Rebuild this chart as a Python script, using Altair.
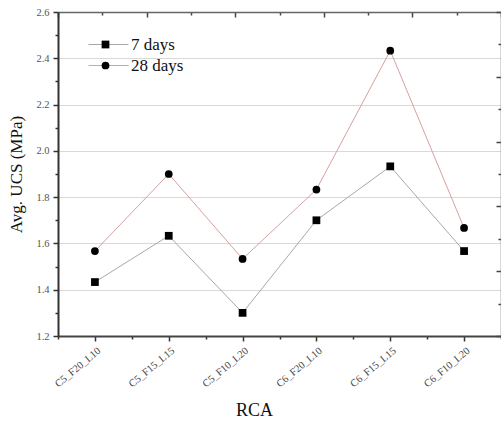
import json
import altair as alt
import pandas as pd

categories = ["C5_F20_L10", "C5_F15_L15", "C5_F10_L20", "C6_F20_L10", "C6_F15_L15", "C6_F10_L20"]
ucs_7 = [1.433, 1.633, 1.300, 1.700, 1.933, 1.567]
ucs_28 = [1.567, 1.900, 1.533, 1.833, 2.433, 1.667]
series_names = ["7 days", "28 days"]
marker_keys = ["m7", "m28"]
y_ticks = [1.2, 1.3, 1.4, 1.5, 1.6, 1.7, 1.8, 1.9, 2.0, 2.1, 2.2, 2.3, 2.4, 2.5, 2.6]
x_ticks = [-0.5, 0, 0.5, 1, 1.5, 2, 2.5, 3, 3.5, 4, 4.5, 5, 5.5]
frame_ticks = [0, 1, 2, 3, 4, 5, 6, 7, 8, 9, 10]

rows = []
for i, c in enumerate(categories):
    rows.append({"idx": i, "cat": c, "series": series_names[0], "marker": marker_keys[0], "value": ucs_7[i]})
    rows.append({"idx": i, "cat": c, "series": series_names[1], "marker": marker_keys[1], "value": ucs_28[i]})
df = pd.DataFrame(rows)

W, H = 443, 324
FONT = "Liberation Serif"

cats_js = json.dumps(categories)

x_axis = alt.Axis(
    values=x_ticks,
    labelExpr=f"datum.value % 1 == 0 ? {cats_js}[datum.value] : ''",
    labelAngle=-40, labelAlign="right", labelBaseline="middle",
    labelFont=FONT, labelFontSize=10.5, labelColor="#444", labelPadding=8, labelOffset=4,
    tickSize={"condition": {"test": "datum.value % 1 == 0", "value": 5}, "value": 3},
    tickColor="#333", tickWidth=1.5,
    domainColor="#444", domainWidth=2,
    grid=False, title="RCA", titleFont=FONT, titleFontSize=18,
    titleFontWeight="normal", titleColor="#111", titlePadding=12,
    titleX=196, labelOverlap=False,
)
y_axis = alt.Axis(
    values=y_ticks,
    labelExpr="round(datum.value*10) % 2 == 0 ? format(datum.value, '.1f') : ''",
    labelFont=FONT, labelFontSize=10.5, labelColor="#555", labelPadding=4,
    tickSize={"condition": {"test": "round(datum.value*10) % 2 == 0", "value": 5}, "value": 3},
    tickColor="#333", tickWidth=1.5,
    domainColor="#333", domainWidth=2,
    grid=True, gridColor="#d9d9d9", gridWidth=1,
    gridOpacity={"condition": {"test": "round(datum.value*10) % 2 == 0", "value": 1}, "value": 0},
    title="Avg. UCS (MPa)", titleFont=FONT, titleFontSize=17,
    titleFontWeight="normal", titleColor="#111", titlePadding=10,
    labelOverlap=False,
)

x_enc = alt.X("idx:Q", scale=alt.Scale(domain=[-0.5, 5.5], nice=False, zero=False), axis=x_axis)
y_enc = alt.Y("value:Q", scale=alt.Scale(domain=[1.2, 2.6], nice=False, zero=False), axis=y_axis)

lines = alt.Chart(df).mark_line(strokeWidth=1).encode(
    x=x_enc, y=y_enc,
    color=alt.Color("series:N", scale=alt.Scale(domain=series_names, range=["#a8a8a8", "#d9a0a0"]),
                    legend=alt.Legend(title=None, orient="none", legendX=42, legendY=24,
                                      symbolType="M-4,0H4", symbolSize=100, symbolStrokeWidth=1,
                                      labelFont=FONT, labelFontSize=17, labelColor="#111",
                                      labelOffset=14, rowPadding=3, padding=0)),
    detail="series:N",
)
points = alt.Chart(df).mark_point(filled=True, size=60, opacity=1).encode(
    x=x_enc, y=y_enc,
    shape=alt.Shape("marker:N", scale=alt.Scale(domain=marker_keys, range=["square", "circle"]),
                    legend=alt.Legend(title=None, orient="none", legendX=39, legendY=24,
                                      symbolSize=60, symbolFillColor="black", symbolStrokeColor="black",
                                      labelFont=FONT, labelFontSize=17, labelOpacity=0,
                                      labelExpr="''",
                                      labelOffset=14, rowPadding=3, padding=0)),
    color=alt.value("black"),
)

main = alt.layer(lines, points)

frame_df = pd.DataFrame({"fx": [0, 10], "fy": [0, 10]})
frame = alt.Chart(frame_df).mark_point(opacity=0).encode(
    x=alt.X("fx:Q", scale=alt.Scale(domain=[0, 10], nice=False, zero=False),
            axis=alt.Axis(orient="bottom", offset=-H, values=frame_ticks, labels=False, title=None,
                          grid=False, domainColor="#666", domainWidth=1.5, tickColor="#444",
                          tickWidth=1.5,
                          tickSize={"condition": {"test": "datum.value % 2 == 0", "value": 5}, "value": 3})),
    y=alt.Y("fy:Q", scale=alt.Scale(domain=[0, 10], nice=False, zero=False),
            axis=alt.Axis(orient="left", offset=-W, values=frame_ticks, labels=False, title=None,
                          grid=False, domainColor="#666", domainWidth=1.5, tickColor="#444",
                          tickWidth=1.5,
                          tickSize={"condition": {"test": "datum.value % 2 == 0", "value": 5}, "value": 3})),
)

chart = alt.layer(main, frame).resolve_scale(
    x="independent", y="independent"
).properties(
    width=W, height=H,
    autosize=alt.AutoSizeParams(type="none"),
    padding={"left": 58, "top": 12, "right": 0, "bottom": 85},
    background="white",
).configure_view(stroke=None)

chart.save("out.html", embed_options={"renderer": "svg", "actions": False})
